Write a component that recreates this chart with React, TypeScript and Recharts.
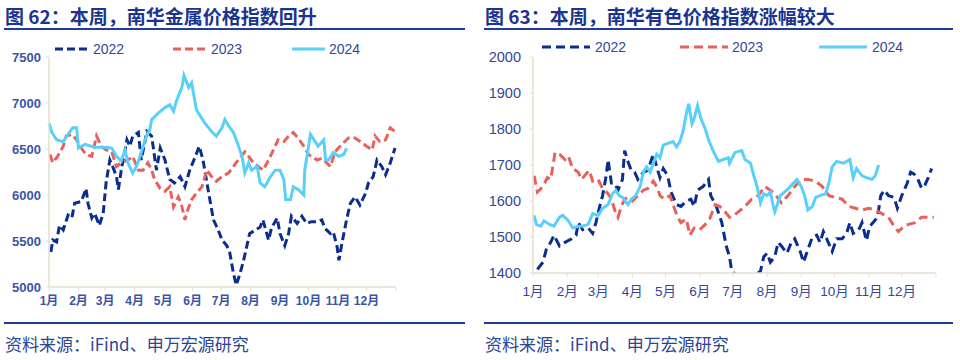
import { LineChart, Line, XAxis, YAxis } from 'recharts'

// day-of-year, index value
const metal2022: [number, number][] = [
  [2, 5380], [4, 5510], [8, 5490], [11, 5670], [15, 5620], [20, 5780], [24, 5750], [27, 5910], [34, 5930], [39, 6070],
  [41, 5910], [45, 5750], [48, 5800], [53, 5670], [57, 5800], [60, 6130], [64, 6380], [67, 6310], [71, 6200], [73, 6060],
  [76, 6270], [82, 6600], [85, 6530], [88, 6640], [94, 6680], [97, 6380], [103, 6690], [108, 6640], [113, 6270], [117, 6510],
  [122, 6380], [127, 6170], [132, 6130], [138, 6200], [143, 6090], [148, 6270], [154, 6420], [158, 6530], [162, 6380], [168, 6020],
  [173, 5730], [178, 5620], [182, 5510], [187, 5450], [190, 5380], [194, 5150], [197, 5020], [201, 5150], [204, 5260], [208, 5440],
  [211, 5580], [217, 5620], [222, 5650], [225, 5730], [231, 5510], [234, 5640], [240, 5750], [243, 5580], [248, 5450], [252, 5580],
  [255, 5770], [261, 5690], [266, 5770], [271, 5690], [276, 5710], [282, 5710], [287, 5730], [290, 5640], [296, 5580], [299, 5600],
  [303, 5440], [305, 5290], [308, 5470], [313, 5730], [317, 5910], [322, 5980], [327, 5890], [333, 6020], [336, 6130], [341, 6200],
  [345, 6380], [350, 6310], [354, 6220], [359, 6350], [364, 6510],
]
const metal2023: [number, number][] = [
  [1, 6440], [4, 6350], [9, 6420], [15, 6530], [18, 6640], [24, 6660], [29, 6600], [34, 6510], [39, 6440], [45, 6420],
  [50, 6640], [55, 6530], [60, 6490], [66, 6470], [71, 6310], [76, 6350], [83, 6380], [88, 6420], [94, 6270], [99, 6270],
  [104, 6350], [108, 6270], [111, 6170], [117, 6070], [122, 6040], [127, 6090], [131, 5870], [136, 5980], [139, 5910], [143, 5730],
  [146, 5840], [150, 5950], [155, 6020], [161, 6090], [166, 6270], [171, 6200], [176, 6150], [182, 6200], [189, 6240], [194, 6310],
  [199, 6380], [206, 6470], [210, 6420], [215, 6350], [220, 6310], [225, 6270], [231, 6380], [236, 6490], [241, 6600], [247, 6580],
  [252, 6640], [257, 6680], [262, 6620], [268, 6530], [273, 6440], [282, 6380], [287, 6400], [296, 6310], [301, 6470], [308, 6550],
  [315, 6620], [322, 6620], [329, 6570], [334, 6530], [340, 6490], [343, 6640], [348, 6580], [354, 6600], [359, 6730], [364, 6690],
]
const metal2024: [number, number][] = [
  [0, 6780], [3, 6680], [8, 6600], [15, 6580], [20, 6660], [25, 6730], [29, 6730], [31, 6510], [38, 6550], [48, 6520],
  [59, 6520], [66, 6510], [71, 6420], [76, 6370], [80, 6490], [83, 6350], [88, 6240], [92, 6310], [97, 6460], [101, 6600],
  [106, 6710], [108, 6820], [115, 6890], [122, 6950], [127, 6980], [131, 6910], [134, 7020], [140, 7180], [142, 7300], [147, 7170],
  [150, 7220], [155, 6930], [159, 6860], [164, 6780], [171, 6690], [176, 6640], [182, 6730], [185, 6820], [189, 6750], [194, 6680],
  [198, 6570], [203, 6420], [206, 6240], [210, 6350], [213, 6270], [219, 6310], [222, 6130], [227, 6090], [233, 6200], [238, 6270],
  [243, 6270], [247, 6170], [249, 5950], [254, 5950], [257, 6090], [262, 6060], [268, 6000], [269, 6270], [275, 6660], [280, 6580],
  [283, 6530], [289, 6600], [291, 6380], [294, 6380], [299, 6460], [305, 6420], [310, 6440], [313, 6510],
]

const nonferrous2022: [number, number][] = [
  [4, 1410], [9, 1430], [12, 1465], [16, 1485], [19, 1505], [24, 1475], [29, 1485], [35, 1495], [39, 1505], [41, 1540],
  [45, 1520], [50, 1525], [54, 1510], [57, 1540], [60, 1580], [63, 1615], [66, 1665], [68, 1715], [71, 1650], [74, 1650],
  [77, 1630], [81, 1660], [83, 1740], [86, 1710], [89, 1685], [92, 1680], [95, 1660], [100, 1680], [104, 1685], [109, 1730],
  [112, 1695], [115, 1665], [118, 1690], [122, 1670], [125, 1625], [130, 1590], [134, 1585], [139, 1600], [143, 1605], [146, 1585],
  [149, 1630], [154, 1640], [159, 1660], [161, 1615], [166, 1585], [171, 1540], [175, 1475], [178, 1445], [180, 1405], [186, 1390],
  [192, 1385], [198, 1385], [206, 1405], [209, 1445], [212, 1455], [215, 1430], [219, 1445], [222, 1485], [225, 1475], [230, 1455],
  [234, 1485], [237, 1495], [242, 1460], [245, 1430], [249, 1465], [253, 1500], [257, 1505], [260, 1485], [263, 1515], [266, 1495],
  [271, 1460], [275, 1495], [280, 1495], [284, 1510], [287, 1540], [290, 1510], [295, 1520], [298, 1540], [302, 1490], [305, 1530],
  [308, 1540], [312, 1555], [315, 1615], [318, 1630], [322, 1615], [327, 1610], [330, 1580], [334, 1615], [339, 1650], [342, 1680],
  [345, 1675], [348, 1665], [352, 1635], [355, 1645], [358, 1665], [361, 1690],
]
const nonferrous2023: [number, number][] = [
  [1, 1670], [4, 1625], [9, 1640], [13, 1665], [16, 1660], [20, 1735], [24, 1730], [29, 1715], [32, 1725], [36, 1690],
  [41, 1680], [44, 1660], [48, 1675], [51, 1685], [54, 1655], [59, 1660], [63, 1635], [68, 1620], [71, 1605], [74, 1575],
  [77, 1555], [80, 1585], [83, 1605], [86, 1610], [90, 1600], [95, 1615], [100, 1630], [104, 1635], [109, 1655], [112, 1640],
  [115, 1615], [119, 1605], [124, 1615], [128, 1580], [131, 1555], [134, 1540], [139, 1550], [142, 1505], [146, 1525], [151, 1520],
  [156, 1535], [160, 1550], [165, 1590], [169, 1585], [174, 1570], [178, 1555], [180, 1555], [186, 1570], [192, 1585], [198, 1605],
  [204, 1615], [210, 1640], [215, 1630], [219, 1620], [225, 1595], [231, 1615], [237, 1640], [243, 1660], [249, 1660], [256, 1655],
  [262, 1640], [268, 1615], [274, 1610], [280, 1605], [286, 1585], [292, 1580], [298, 1575], [304, 1580], [310, 1575], [316, 1565],
  [322, 1555], [327, 1530], [331, 1515], [336, 1530], [340, 1535], [346, 1540], [352, 1555], [358, 1555], [363, 1555],
]
const nonferrous2024: [number, number][] = [
  [1, 1560], [3, 1535], [7, 1530], [10, 1545], [15, 1535], [19, 1530], [24, 1555], [27, 1560], [32, 1545], [36, 1525],
  [41, 1530], [45, 1530], [50, 1535], [54, 1565], [59, 1560], [63, 1580], [68, 1590], [72, 1620], [75, 1630], [78, 1615],
  [81, 1610], [86, 1590], [89, 1605], [93, 1615], [97, 1640], [100, 1680], [103, 1695], [106, 1680], [109, 1705], [112, 1730],
  [115, 1720], [118, 1755], [122, 1760], [127, 1765], [130, 1750], [133, 1765], [136, 1795], [139, 1845], [141, 1870], [144, 1815],
  [146, 1830], [149, 1865], [152, 1830], [156, 1800], [159, 1770], [163, 1740], [168, 1710], [172, 1715], [177, 1720], [178, 1705],
  [183, 1735], [189, 1740], [192, 1715], [197, 1705], [200, 1670], [203, 1640], [206, 1595], [209, 1620], [212, 1615], [215, 1625],
  [218, 1580], [219, 1570], [224, 1615], [228, 1625], [233, 1640], [239, 1660], [243, 1640], [246, 1615], [249, 1575], [253, 1585],
  [256, 1610], [260, 1615], [265, 1620], [268, 1650], [271, 1695], [275, 1710], [281, 1705], [287, 1715], [290, 1665], [293, 1690],
  [298, 1670], [302, 1665], [307, 1660], [310, 1670], [313, 1700],
]

const years = ['2022', '2023', '2024']
const monthTicks = [0, 31, 59, 90, 120, 151, 181, 212, 243, 273, 304, 334, 365]
const monthLabels = ['1月', '2月', '3月', '4月', '5月', '6月', '7月', '8月', '9月', '10月', '11月', '12月', '']
const metalTicks = [5000, 5500, 6000, 6500, 7000, 7500]
const nonferrousTicks = [1400, 1500, 1600, 1700, 1800, 1900, 2000]

const NAVY = '#0b2d8e'
const RED = '#e9615b'
const SKY = '#59d0fa'
const AXIS = '#e4e1cf'
const TEXT = '#33479a'
const FONT = '"Liberation Sans", "Noto Sans CJK SC", sans-serif'

const toRows = (pts: [number, number][]) => pts.map(([day, v]) => ({ day, v }))

interface PanelProps {
  left: number
  title: string
  series: [number, number][][]
  ticks: number[]
  margin: { top: number; right: number; bottom: number; left: number }
  yWidth: number
  yTickMargin: number
  xHeight: number
  xTickMargin: number
  xTick: Record<string, string | number>
  yTick: Record<string, string | number>
  dash: string
  legend: { x1: number; x2: number; tx: number }[]
  legendY: number
  lineRight: number
}

function Panel(p: PanelProps) {
  const colors = [NAVY, RED, SKY]
  return (
    <div style={{ position: 'absolute', left: p.left, top: 0, width: 480, height: 360 }}>
      <div
        style={{
          position: 'absolute', left: 5, top: 3, lineHeight: '26px', fontSize: 19, fontWeight: 700,
          color: '#1b3490', fontFamily: '"Noto Sans CJK SC", sans-serif', whiteSpace: 'nowrap',
        }}
      >
        {p.title}
      </div>
      <div style={{ position: 'absolute', left: 4, top: 28, width: p.lineRight - 4, height: 2, background: '#1d3c9c' }} />
      <svg style={{ position: 'absolute', left: 0, top: 0 }} width={480} height={70}>
        {p.legend.map((l, i) => (
          <g key={years[i]}>
            <line
              x1={l.x1} x2={l.x2} y1={p.legendY} y2={p.legendY} stroke={colors[i]} strokeWidth={3}
              strokeDasharray={i < 2 ? p.dash : undefined}
            />
            <text x={l.tx} y={p.legendY + 5} fontSize={14} fill={TEXT} fontFamily={FONT}>{years[i]}</text>
          </g>
        ))}
      </svg>
      <div style={{ position: 'absolute', left: 0, top: 0 }}>
        <LineChart width={480} height={320} margin={p.margin}>
          <XAxis
            type="number" dataKey="day" domain={[0, 365]} ticks={monthTicks} interval={0}
            tickFormatter={(v: number) => monthLabels[monthTicks.indexOf(v)] ?? ''}
            height={p.xHeight} tick={p.xTick} tickSize={4} tickMargin={p.xTickMargin}
            axisLine={{ stroke: AXIS, strokeWidth: 1.5 }} tickLine={{ stroke: AXIS }}
          />
          <YAxis
            type="number" domain={[p.ticks[0], p.ticks[p.ticks.length - 1]]} ticks={p.ticks} interval={0}
            allowDataOverflow width={p.yWidth} tick={p.yTick} tickSize={3} tickMargin={p.yTickMargin}
            axisLine={{ stroke: AXIS, strokeWidth: 1.5 }} tickLine={{ stroke: AXIS }}
          />
          {p.series.map((s, i) => (
            <Line
              key={years[i]} data={toRows(s)} dataKey="v" type="linear" stroke={colors[i]} strokeWidth={3}
              strokeDasharray={i < 2 ? p.dash : undefined} dot={false} activeDot={false}
              isAnimationActive={false}
            />
          ))}
        </LineChart>
      </div>
      <div style={{ position: 'absolute', left: 4, top: 322, width: p.lineRight - 4, height: 2, background: '#1d3c9c' }} />
      <div
        style={{
          position: 'absolute', left: 5, top: 332, fontSize: 17, lineHeight: '24px', color: '#2a4597',
          fontFamily: '"Noto Sans CJK SC", sans-serif', whiteSpace: 'nowrap',
        }}
      >
        资料来源：iFind、申万宏源研究
      </div>
    </div>
  )
}

export default function App() {
  return (
    <div style={{ position: 'absolute', left: 0, top: 0, width: 960, height: 360, background: '#fff', overflow: 'hidden' }}>
      <Panel
        left={0}
        title="图 62：本周，南华金属价格指数回升"
        series={[metal2022, metal2023, metal2024]}
        ticks={metalTicks}
        margin={{ top: 57, right: 84, bottom: 3, left: 0 }}
        yWidth={49}
        yTickMargin={5}
        xHeight={30}
        xTickMargin={5}
        xTick={{ fontSize: 12, fill: '#3a55a8', fontFamily: FONT, fontWeight: 700 }}
        yTick={{ fontSize: 13, fill: '#3a55a8', fontFamily: FONT, fontWeight: 700 }}
        dash="8 4"
        legend={[{ x1: 55, x2: 90, tx: 93 }, { x1: 173, x2: 208, tx: 211 }, { x1: 292, x2: 325, tx: 329 }]}
        legendY={49}
        lineRight={465}
      />
      <Panel
        left={480}
        title="图 63：本周，南华有色价格指数涨幅较大"
        series={[nonferrous2022, nonferrous2023, nonferrous2024]}
        ticks={nonferrousTicks}
        margin={{ top: 57, right: 24, bottom: 7, left: 0 }}
        yWidth={53}
        yTickMargin={9}
        xHeight={40}
        xTickMargin={9}
        xTick={{ fontSize: 13.5, fill: TEXT, fontFamily: FONT }}
        yTick={{ fontSize: 14.5, fill: TEXT, fontFamily: FONT }}
        dash="9 5"
        legend={[{ x1: 62, x2: 110, tx: 115 }, { x1: 200, x2: 248, tx: 252 }, { x1: 339, x2: 387, tx: 392 }]}
        legendY={47}
        lineRight={473}
      />
    </div>
  )
}
